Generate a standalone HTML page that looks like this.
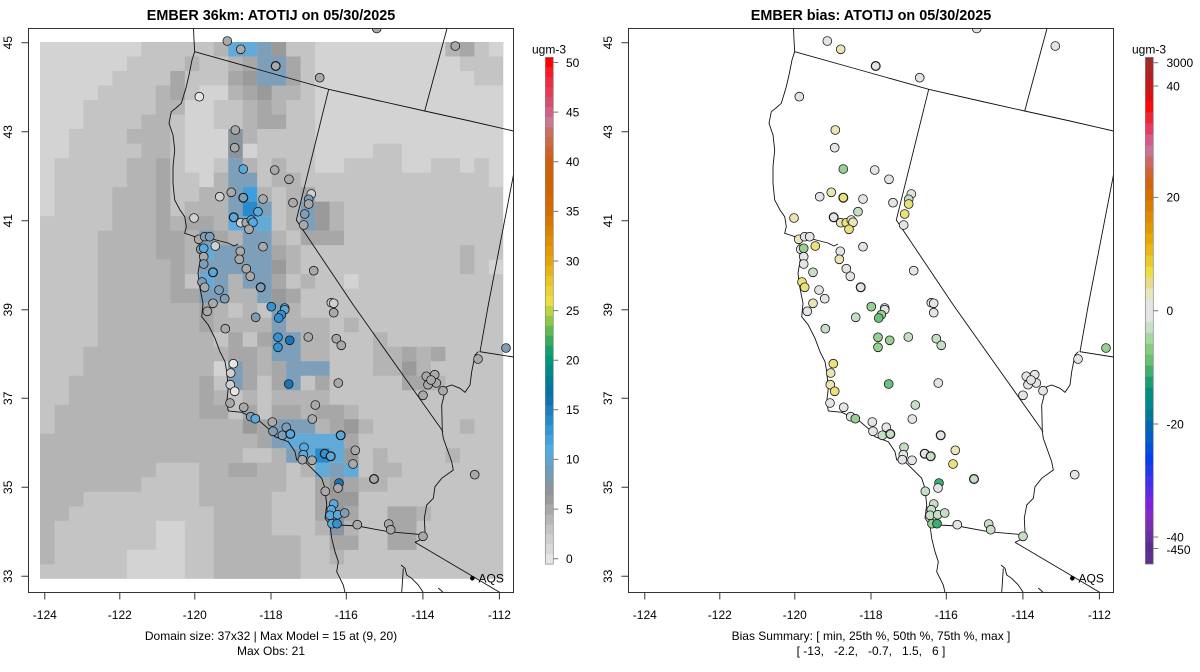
<!DOCTYPE html>
<html><head><meta charset="utf-8">
<style>
html,body{margin:0;padding:0;background:#fff;}
svg{display:block;font-family:"Liberation Sans",Arial,sans-serif;}
.a{fill:#d3d3d3}.b{fill:#c4c4c4}.c{fill:#b4b4b4}.d{fill:#a7a7a7}.e{fill:#9a9a9a}.f{fill:#8c959c}.g{fill:#7d9fb9}.h{fill:#62abd9}.i{fill:#3d9fdc}.j{fill:#2a8bcc}
circle{stroke:#1a1a1a;stroke-width:.8}
.t{stroke-width:1.2}
.pG{fill:#a9a9a9}.pL{fill:#d0d0d0}.pW{fill:#e6e6e6}.pGB{fill:#7f9db4}.pLB{fill:#5aa9dc}.pB{fill:#3392d2}.pDB{fill:#1976b6}
.rW{fill:#e4e4e4}.rPY{fill:#ebe5b5}.rY{fill:#ece07c}.rPG{fill:#c6dfc4}.rG{fill:#98d092}.rMG{fill:#6cc27a}.rDG{fill:#3aae72}
.ln{fill:none;stroke:#111;stroke-width:.9}
.ax{stroke:#333;stroke-width:1;fill:none}
.tk{font-size:12px;fill:#000}
</style></head>
<body>
<svg width="1200" height="672" viewBox="0 0 1200 672" xmlns="http://www.w3.org/2000/svg">
<defs>
<clipPath id="clipL"><rect x="28.5" y="28.5" width="485" height="564"/></clipPath>
<g id="map">
<path class="ln" d="M193.5,28.5 L194,40 194.7,51.7 192,60 189,75 186.3,86.7 181.3,103.3 176,108 171.3,111.7 169,123.3 173,135 174.7,150 173,166.7 173,183.3 174.7,200 180,210 184.7,216.7 186.3,226.7 184.7,233.3 190,235 194.7,236.7 198,240 201.3,253.3 198,273.3 199.7,286.7 203,303.3 201.7,316.7 208.3,325 215,338.3 220,351.7 225,361.7 226.7,371.7 228.3,388.3 226.7,401.7 228.3,411 241.7,412.3 258.3,420 270,430 275,436.7 288.3,441.7 295,451.7 296.7,460 305,461.7 311.7,468.3 321.7,478.3 325,488.3 326.7,505 325,518.3 330,525 331.7,538.3 335,551.7 338.3,561.7 336.7,571.7 343.3,585 345,592.5"/>
<path class="ln" d="M194.7,236.7 L202,238 212,239 220,241 228,243 234,246 238,244"/>
<path class="ln" d="M194.7,51.7 L260,70 328.7,89.3 380,101 424.7,111 470,121 513.5,131"/>
<path class="ln" d="M447,28.5 L424.7,111"/>
<path class="ln" d="M328.7,89.3 L296.3,220 353.3,305 443,431.5"/>
<path class="ln" d="M513.5,174.7 L488.3,305 480,351.7 513.5,357"/>
<path class="ln" d="M478.3,351.7 L475,355 471.7,371.7 470,385 465,392.3 460,388.3 451.7,385 446.7,386.7 445,391.7 441.7,405 442.3,431.7 443.3,438.3 451.7,461.7 453.3,470 441.7,478.3 435,486.7 433.3,498.3 426.7,505 424.3,518.3 425,531.7 423.3,538.3 415,542.3"/>
<path class="ln" d="M415,542.3 L500,592.5"/>
<path class="ln" d="M330,525 L338.3,525 357.7,526 388.3,531.7 418.3,534.3 423.3,538.3"/>
<path class="ln" d="M401,565 L405,568.3 406.7,575 411.7,578.3 418.3,585 423.3,592.5 M403.3,568.3 L401.7,592.5 M438.3,588 L443.3,592.5"/>
<circle cx="472.3" cy="578.3" r="2.3" style="fill:#000;stroke:none"/>
<text x="478.5" y="582.7" class="tk">AQS</text>
</g>
</defs>

<!-- ===== LEFT PANEL ===== -->
<text x="271" y="20" text-anchor="middle" style="font-size:14.4px;font-weight:bold">EMBER 36km: ATOTIJ on 05/30/2025</text>
<svg x="40" y="42" width="463.36" height="536.87" viewBox="0 0 32 37" preserveAspectRatio="none">
<rect x="0" y="0" width="32" height="37" class="b"/>
<path class="a" d="M0 0h7v1h-7zM19 0h9v1h-9zM31 0h1v1h-1zM0 1h6v1h-6zM19 1h10v1h-10zM0 2h5v1h-5zM19 2h11v1h-11zM0 3h4v1h-4zM11 3h2v1h-2zM19 3h13v1h-13zM0 4h3v1h-3zM10 4h2v1h-2zM19 4h13v1h-13zM0 5h3v1h-3zM10 5h2v1h-2zM19 5h13v1h-13zM0 6h2v1h-2zM10 6h3v1h-3zM19 6h13v1h-13zM0 7h2v1h-2zM10 7h3v1h-3zM14 7h1v1h-1zM19 7h4v1h-4zM25 7h7v1h-7zM0 8h1v1h-1zM10 8h2v1h-2zM19 8h2v1h-2zM25 8h2v1h-2zM29 8h1v1h-1zM31 8h1v1h-1zM0 9h1v1h-1zM11 9h1v1h-1zM31 9h1v1h-1zM0 10h1v2h-1zM31 15h1v1h-1zM21 16h1v1h-1zM12 22h1v1h-1zM8 33h2v2h-2zM6 35h4v2h-4z"/>
<path class="c" d="M12 0h1v1h-1zM28 0h1v1h-1zM10 1h1v1h-1zM13 1h1v1h-1zM8 3h1v1h-1zM13 3h1v1h-1zM16 3h2v1h-2zM8 4h2v1h-2zM14 4h1v1h-1zM16 4h1v1h-1zM7 5h2v1h-2zM14 5h1v1h-1zM6 6h3v1h-3zM14 6h1v1h-1zM7 7h2v1h-2zM6 8h2v1h-2zM14 8h1v1h-1zM16 8h1v1h-1zM6 9h2v1h-2zM12 9h1v1h-1zM16 9h2v1h-2zM5 10h3v1h-3zM11 10h2v1h-2zM15 10h1v1h-1zM17 10h1v1h-1zM5 11h3v1h-3zM10 11h3v1h-3zM17 11h1v1h-1zM20 11h1v1h-1zM5 12h3v1h-3zM9 12h1v1h-1zM12 12h1v1h-1zM17 12h1v1h-1zM20 12h1v1h-1zM4 13h4v1h-4zM10 13h1v1h-1zM13 13h1v1h-1zM16 13h1v1h-1zM4 14h4v1h-4zM10 14h1v1h-1zM17 14h1v1h-1zM29 14h1v1h-1zM4 15h5v1h-5zM10 15h1v1h-1zM17 15h1v1h-1zM29 15h1v1h-1zM4 16h5v1h-5zM13 16h1v1h-1zM18 16h1v1h-1zM4 17h5v1h-5zM13 17h2v1h-2zM4 18h7v1h-7zM12 18h1v1h-1zM14 18h1v1h-1zM17 18h1v1h-1zM4 19h7v1h-7zM12 19h4v1h-4zM17 19h3v1h-3zM21 19h1v1h-1zM4 20h8v1h-8zM18 20h2v1h-2zM23 20h1v1h-1zM3 21h10v1h-10zM15 21h1v1h-1zM18 21h2v1h-2zM23 21h2v1h-2zM26 21h1v1h-1zM3 22h9v1h-9zM15 22h1v1h-1zM23 22h2v1h-2zM26 22h1v1h-1zM2 23h9v1h-9zM27 23h1v1h-1zM2 24h9v1h-9zM12 24h1v1h-1zM14 24h1v1h-1zM16 24h4v1h-4zM1 25h10v1h-10zM18 25h1v1h-1zM21 25h1v1h-1zM1 26h13v1h-13zM19 26h1v1h-1zM22 26h1v1h-1zM29 26h1v1h-1zM0 27h15v1h-15zM0 28h14v1h-14zM16 28h1v1h-1zM23 28h1v1h-1zM28 28h1v1h-1zM0 29h8v1h-8zM11 29h2v1h-2zM15 29h2v1h-2zM18 29h1v1h-1zM23 29h2v1h-2zM0 30h7v1h-7zM11 30h6v1h-6zM22 30h2v1h-2zM0 31h3v1h-3zM11 31h5v1h-5zM0 32h2v1h-2zM12 32h4v1h-4zM26 32h1v1h-1zM0 33h1v1h-1zM12 33h4v1h-4zM19 33h1v1h-1zM21 33h1v1h-1zM0 34h1v1h-1zM12 34h6v1h-6zM0 35h1v1h-1zM12 35h6v1h-6zM20 35h1v1h-1zM12 36h6v1h-6z"/>
<path class="d" d="M29 0h1v1h-1zM14 1h1v1h-1zM17 1h1v1h-1zM9 2h1v1h-1zM13 2h1v1h-1zM17 2h1v1h-1zM9 3h1v1h-1zM14 3h1v1h-1zM15 4h1v1h-1zM15 5h2v1h-2zM8 8h1v5h-1zM18 10h1v1h-1zM10 12h2v1h-2zM8 13h2v2h-2zM12 13h1v1h-1zM18 13h3v1h-3zM16 14h1v1h-1zM9 15h1v2h-1zM16 16h1v1h-1zM9 17h2v1h-2zM17 17h1v1h-1zM11 18h1v2h-1zM13 20h1v1h-1zM15 20h1v1h-1zM13 21h2v1h-2zM25 21h1v1h-1zM27 21h1v1h-1zM14 22h1v1h-1zM16 22h1v1h-1zM11 23h1v2h-1zM14 23h1v1h-1zM16 23h1v1h-1zM19 23h1v1h-1zM25 23h2v1h-2zM11 25h2v1h-2zM14 25h1v1h-1zM16 25h2v1h-2zM19 25h2v1h-2zM15 26h1v2h-1zM20 26h1v1h-1zM21 27h1v1h-1zM13 29h2v1h-2zM19 30h1v3h-1zM21 30h1v1h-1zM21 32h1v1h-1zM24 32h2v3h-2zM20 34h2v1h-2z"/>
<path class="e" d="M16 0h1v1h-1zM14 2h1v1h-1zM15 3h1v1h-1zM19 11h1v2h-1zM16 15h1v1h-1zM16 17h1v1h-1zM25 22h1v1h-1zM14 26h1v1h-1zM21 26h1v1h-1zM21 28h1v1h-1zM20 30h1v1h-1zM20 31h2v1h-2z"/>
<path class="f" d="M13 6h1v2h-1zM20 32h1v2h-1z"/>
<path class="g" d="M15 0h1v1h-1zM15 1h2v2h-2zM13 8h1v1h-1zM13 9h2v1h-2zM13 10h1v2h-1zM15 11h1v1h-1zM18 11h1v2h-1zM11 13h1v1h-1zM14 13h2v1h-2zM12 14h4v1h-4zM11 15h5v1h-5zM12 16h1v1h-1zM14 16h2v1h-2zM11 17h2v1h-2zM15 17h1v1h-1zM16 18h1v2h-1zM16 20h2v2h-2zM13 22h1v2h-1zM17 22h3v1h-3zM17 23h1v1h-1zM16 26h3v1h-3zM16 27h1v1h-1zM17 28h1v1h-1zM20 29h1v1h-1z"/>
<path class="h" d="M13 0h2v1h-2zM13 12h3v1h-3zM11 14h1v1h-1zM11 16h1v1h-1zM17 27h4v1h-4zM18 28h1v1h-1zM20 28h1v1h-1zM19 29h1v1h-1zM21 29h1v1h-1z"/>
<path class="i" d="M14 10h1v1h-1z"/>
<path class="j" d="M14 11h1v1h-1zM19 28h1v1h-1z"/>
</svg>
<g clip-path="url(#clipL)"><use href="#map"/>
<g>
<circle cx="227.3" cy="41" r="4.4" class="pG"/>
<circle cx="240.7" cy="49.3" r="4.4" class="pG"/>
<circle cx="275.7" cy="66" r="4.4" class="pG t"/>
<circle cx="319.7" cy="77.7" r="4.4" class="pG"/>
<circle cx="199.3" cy="96.7" r="4.4" class="pW"/>
<circle cx="455.3" cy="46" r="4.4" class="pG"/>
<circle cx="376.7" cy="28.5" r="4.4" class="pG"/>
<circle cx="235.3" cy="130" r="4.4" class="pG"/>
<circle cx="234.7" cy="147.7" r="4.4" class="pG"/>
<circle cx="243.3" cy="169" r="4.4" class="pLB"/>
<circle cx="274.7" cy="170" r="4.4" class="pG"/>
<circle cx="289" cy="179.3" r="4.4" class="pG"/>
<circle cx="219.7" cy="196.7" r="4.4" class="pL"/>
<circle cx="231.3" cy="192.3" r="4.4" class="pG"/>
<circle cx="243.3" cy="197.7" r="4.4" class="pGB t"/>
<circle cx="263" cy="199" r="4.4" class="pG"/>
<circle cx="293" cy="202.7" r="4.4" class="pG"/>
<circle cx="311.3" cy="194" r="4.4" class="pL"/>
<circle cx="308.7" cy="199.3" r="4.4" class="pGB"/>
<circle cx="308.7" cy="204" r="4.4" class="pG"/>
<circle cx="304.7" cy="214" r="4.4" class="pGB"/>
<circle cx="303.7" cy="225" r="4.4" class="pG"/>
<circle cx="258" cy="211.7" r="4.4" class="pLB"/>
<circle cx="233.7" cy="217.3" r="4.4" class="pLB t"/>
<circle cx="240.7" cy="222.7" r="4.4" class="pL"/>
<circle cx="246.3" cy="222.7" r="4.4" class="pG"/>
<circle cx="251.3" cy="220" r="4.4" class="pLB"/>
<circle cx="253" cy="222.3" r="4.4" class="pLB"/>
<circle cx="249" cy="229.3" r="4.4" class="pG"/>
<circle cx="263" cy="246.7" r="4.4" class="pG"/>
<circle cx="194" cy="218" r="4.4" class="pL"/>
<circle cx="198.7" cy="239.3" r="4.4" class="pG"/>
<circle cx="204.7" cy="236.7" r="4.4" class="pGB"/>
<circle cx="209.7" cy="236.7" r="4.4" class="pGB"/>
<circle cx="200.7" cy="249.3" r="4.4" class="pGB"/>
<circle cx="203.7" cy="248.3" r="4.4" class="pLB"/>
<circle cx="215.3" cy="246" r="4.4" class="pL"/>
<circle cx="240.3" cy="251.3" r="4.4" class="pG"/>
<circle cx="239.3" cy="259.3" r="4.4" class="pG"/>
<circle cx="203.7" cy="256.7" r="4.4" class="pG"/>
<circle cx="203.7" cy="264" r="4.4" class="pGB"/>
<circle cx="213" cy="272.3" r="4.4" class="pLB t"/>
<circle cx="246.3" cy="268.7" r="4.4" class="pG"/>
<circle cx="250.3" cy="276.3" r="4.4" class="pG"/>
<circle cx="202" cy="282" r="4.4" class="pGB"/>
<circle cx="204.7" cy="287.3" r="4.4" class="pG"/>
<circle cx="219" cy="290" r="4.4" class="pGB"/>
<circle cx="224.7" cy="298.7" r="4.4" class="pGB"/>
<circle cx="260.7" cy="287.3" r="4.4" class="pGB t"/>
<circle cx="313.7" cy="270.7" r="4.4" class="pG"/>
<circle cx="331.3" cy="302.7" r="4.4" class="pL"/>
<circle cx="333.7" cy="303.3" r="4.4" class="pL"/>
<circle cx="271.3" cy="306.7" r="4.4" class="pB"/>
<circle cx="284.7" cy="308" r="4.4" class="pGB"/>
<circle cx="213" cy="303.3" r="4.4" class="pG"/>
<circle cx="207.3" cy="311.3" r="4.4" class="pG"/>
<circle cx="225.3" cy="328.7" r="4.4" class="pG"/>
<circle cx="255.7" cy="317.3" r="4.4" class="pGB"/>
<circle cx="284.7" cy="309.7" r="4.4" class="pLB"/>
<circle cx="281.3" cy="314.7" r="4.4" class="pB"/>
<circle cx="278.7" cy="318" r="4.4" class="pB"/>
<circle cx="333.7" cy="312.7" r="4.4" class="pG"/>
<circle cx="278" cy="337.3" r="4.4" class="pB"/>
<circle cx="289.7" cy="340.3" r="4.4" class="pDB"/>
<circle cx="278" cy="347.3" r="4.4" class="pB"/>
<circle cx="308.3" cy="337" r="4.4" class="pG"/>
<circle cx="336.3" cy="338.7" r="4.4" class="pG"/>
<circle cx="341.3" cy="345.3" r="4.4" class="pG"/>
<circle cx="233.3" cy="363.7" r="4.4" class="pW"/>
<circle cx="230.7" cy="373" r="4.4" class="pL"/>
<circle cx="230.3" cy="384.7" r="4.4" class="pL"/>
<circle cx="234.7" cy="391.3" r="4.4" class="pW"/>
<circle cx="230" cy="403" r="4.4" class="pG"/>
<circle cx="288.7" cy="384" r="4.4" class="pDB"/>
<circle cx="338.3" cy="383" r="4.4" class="pG"/>
<circle cx="243.7" cy="407.3" r="4.4" class="pG"/>
<circle cx="250.7" cy="416.7" r="4.4" class="pGB"/>
<circle cx="255.3" cy="418.7" r="4.4" class="pLB"/>
<circle cx="315.3" cy="405" r="4.4" class="pG"/>
<circle cx="312.3" cy="419" r="4.4" class="pG"/>
<circle cx="272.3" cy="422" r="4.4" class="pG"/>
<circle cx="286.3" cy="427.3" r="4.4" class="pGB"/>
<circle cx="273" cy="431.3" r="4.4" class="pGB"/>
<circle cx="282.3" cy="435.3" r="4.4" class="pGB"/>
<circle cx="290.3" cy="434" r="4.4" class="pLB t"/>
<circle cx="340.7" cy="435.3" r="4.4" class="pLB t"/>
<circle cx="304" cy="447.3" r="4.4" class="pLB"/>
<circle cx="303.3" cy="454.7" r="4.4" class="pLB"/>
<circle cx="302.3" cy="459.7" r="4.4" class="pG"/>
<circle cx="312" cy="460.3" r="4.4" class="pG"/>
<circle cx="324.7" cy="453.7" r="4.4" class="pB t"/>
<circle cx="330.7" cy="456.3" r="4.4" class="pLB t"/>
<circle cx="355.3" cy="450.3" r="4.4" class="pG"/>
<circle cx="353" cy="464" r="4.4" class="pG"/>
<circle cx="374" cy="479" r="4.4" class="pG t"/>
<circle cx="339" cy="483" r="4.4" class="pDB"/>
<circle cx="338" cy="488" r="4.4" class="pG"/>
<circle cx="325.3" cy="491.3" r="4.4" class="pG"/>
<circle cx="333.7" cy="504" r="4.4" class="pLB"/>
<circle cx="331.3" cy="509.7" r="4.4" class="pLB"/>
<circle cx="330" cy="515.3" r="4.4" class="pLB"/>
<circle cx="337.7" cy="514.7" r="4.4" class="pLB"/>
<circle cx="344.7" cy="513" r="4.4" class="pGB"/>
<circle cx="332" cy="523.7" r="4.4" class="pLB"/>
<circle cx="337" cy="523.7" r="4.4" class="pB"/>
<circle cx="357.3" cy="524.7" r="4.4" class="pG"/>
<circle cx="388.7" cy="524" r="4.4" class="pG"/>
<circle cx="390.7" cy="529.7" r="4.4" class="pG"/>
<circle cx="423" cy="536.3" r="4.4" class="pG"/>
<circle cx="478" cy="359" r="4.4" class="pG"/>
<circle cx="443" cy="390.7" r="4.4" class="pG"/>
<circle cx="423" cy="395.3" r="4.4" class="pG"/>
<circle cx="426.3" cy="376.3" r="4.4" class="pG"/>
<circle cx="434.7" cy="374.7" r="4.4" class="pG"/>
<circle cx="428" cy="384.7" r="4.4" class="pG"/>
<circle cx="436.3" cy="383" r="4.4" class="pG"/>
<circle cx="431" cy="380" r="4.4" class="pG"/>
<circle cx="474.7" cy="474.7" r="4.4" class="pG"/>
<circle cx="506" cy="348" r="4.4" class="pGB"/>
</g></g>
<!-- left axes -->
<rect x="28.5" y="28.5" width="485" height="564" class="ax"/>
<path class="ax" d="M44.8,592.5v7M119.8,592.5v7M194.8,592.5v7M271,592.5v7M346.3,592.5v7M422.9,592.5v7M499.4,592.5v7M28.5,42.7h-7M28.5,131.7h-7M28.5,220.7h-7M28.5,309.7h-7M28.5,398.3h-7M28.5,487.3h-7M28.5,576.3h-7"/>
<g class="tk" text-anchor="middle">
<text x="44.8" y="619">-124</text><text x="119.8" y="619">-122</text><text x="194.8" y="619">-120</text><text x="271" y="619">-118</text><text x="346.3" y="619">-116</text><text x="422.9" y="619">-114</text><text x="499.4" y="619">-112</text>
<text transform="translate(11.8,42.7) rotate(-90)">45</text>
<text transform="translate(11.8,131.7) rotate(-90)">43</text>
<text transform="translate(11.8,220.7) rotate(-90)">41</text>
<text transform="translate(11.8,309.7) rotate(-90)">39</text>
<text transform="translate(11.8,398.3) rotate(-90)">37</text>
<text transform="translate(11.8,487.3) rotate(-90)">35</text>
<text transform="translate(11.8,576.3) rotate(-90)">33</text>
<text x="271" y="640">Domain size: 37x32 | Max Model = 15 at (9, 20)</text>
<text x="271" y="655">Max Obs: 21</text>
<text x="549" y="53.5">ugm-3</text>
</g>
<!-- left colorbar -->
<g>
<rect x="545.3" y="554.06" width="8" height="10.2" fill="#e6e6e6"/>
<rect x="545.3" y="544.12" width="8" height="10.2" fill="#d9d9d9"/>
<rect x="545.3" y="534.18" width="8" height="10.2" fill="#cfcfcf"/>
<rect x="545.3" y="524.24" width="8" height="10.2" fill="#c4c4c4"/>
<rect x="545.3" y="514.3" width="8" height="10.2" fill="#b6b6b6"/>
<rect x="545.3" y="504.36" width="8" height="10.2" fill="#a9a9a9"/>
<rect x="545.3" y="494.42" width="8" height="10.2" fill="#9b9b9b"/>
<rect x="545.3" y="484.48" width="8" height="10.2" fill="#8e9499"/>
<rect x="545.3" y="474.54" width="8" height="10.2" fill="#7d98ab"/>
<rect x="545.3" y="464.6" width="8" height="10.2" fill="#6c9dbd"/>
<rect x="545.3" y="454.66" width="8" height="10.2" fill="#5ea6d0"/>
<rect x="545.3" y="444.72" width="8" height="10.2" fill="#4eaee4"/>
<rect x="545.3" y="434.78" width="8" height="10.2" fill="#3ea4de"/>
<rect x="545.3" y="424.84" width="8" height="10.2" fill="#3098d6"/>
<rect x="545.3" y="414.9" width="8" height="10.2" fill="#248aca"/>
<rect x="545.3" y="404.96" width="8" height="10.2" fill="#1c7ec0"/>
<rect x="545.3" y="395.02" width="8" height="10.2" fill="#0e72b4"/>
<rect x="545.3" y="385.08" width="8" height="10.2" fill="#0672a6"/>
<rect x="545.3" y="375.14" width="8" height="10.2" fill="#007e98"/>
<rect x="545.3" y="365.2" width="8" height="10.2" fill="#008a88"/>
<rect x="545.3" y="355.26" width="8" height="10.2" fill="#009878"/>
<rect x="545.3" y="345.32" width="8" height="10.2" fill="#14a26a"/>
<rect x="545.3" y="335.38" width="8" height="10.2" fill="#38ac5c"/>
<rect x="545.3" y="325.44" width="8" height="10.2" fill="#62ba50"/>
<rect x="545.3" y="315.5" width="8" height="10.2" fill="#8ec846"/>
<rect x="545.3" y="305.56" width="8" height="10.2" fill="#c0d43c"/>
<rect x="545.3" y="295.62" width="8" height="10.2" fill="#ece040"/>
<rect x="545.3" y="285.68" width="8" height="10.2" fill="#ecd232"/>
<rect x="545.3" y="275.74" width="8" height="10.2" fill="#eac424"/>
<rect x="545.3" y="265.8" width="8" height="10.2" fill="#e8b416"/>
<rect x="545.3" y="255.86" width="8" height="10.2" fill="#e6a608"/>
<rect x="545.3" y="245.92" width="8" height="10.2" fill="#e49a00"/>
<rect x="545.3" y="235.98" width="8" height="10.2" fill="#e08e00"/>
<rect x="545.3" y="226.04" width="8" height="10.2" fill="#dc8200"/>
<rect x="545.3" y="216.1" width="8" height="10.2" fill="#d87600"/>
<rect x="545.3" y="206.16" width="8" height="10.2" fill="#d46c00"/>
<rect x="545.3" y="196.22" width="8" height="10.2" fill="#d46800"/>
<rect x="545.3" y="186.28" width="8" height="10.2" fill="#d26400"/>
<rect x="545.3" y="176.34" width="8" height="10.2" fill="#d06200"/>
<rect x="545.3" y="166.4" width="8" height="10.2" fill="#d06006"/>
<rect x="545.3" y="156.46" width="8" height="10.2" fill="#d06010"/>
<rect x="545.3" y="146.52" width="8" height="10.2" fill="#cc6428"/>
<rect x="545.3" y="136.58" width="8" height="10.2" fill="#cc6a44"/>
<rect x="545.3" y="126.64" width="8" height="10.2" fill="#cc6e60"/>
<rect x="545.3" y="116.7" width="8" height="10.2" fill="#c87890"/>
<rect x="545.3" y="106.76" width="8" height="10.2" fill="#d06088"/>
<rect x="545.3" y="96.82" width="8" height="10.2" fill="#d84c70"/>
<rect x="545.3" y="86.88" width="8" height="10.2" fill="#e43c58"/>
<rect x="545.3" y="76.94" width="8" height="10.2" fill="#ec2c40"/>
<rect x="545.3" y="67" width="8" height="10.2" fill="#f41c28"/>
<rect x="545.3" y="57.3" width="8" height="9.9" fill="#ff0000"/>
<rect x="545.3" y="57.3" width="8" height="506.8" fill="none" stroke="#888" stroke-width=".7"/>
<path stroke="#777" stroke-width="1" d="M553.3,558.7h5M553.3,509.1h5M553.3,459.4h5M553.3,409.8h5M553.3,360.2h5M553.3,310.6h5M553.3,261h5M553.3,211.4h5M553.3,161.7h5M553.3,112.1h5M553.3,62.5h5"/>
<g class="tk"><text x="566" y="563">0</text><text x="566" y="513.4">5</text><text x="566" y="463.7">10</text><text x="566" y="414.1">15</text><text x="566" y="364.5">20</text><text x="566" y="314.9">25</text><text x="566" y="265.3">30</text><text x="566" y="215.7">35</text><text x="566" y="166">40</text><text x="566" y="116.4">45</text><text x="566" y="66.8">50</text></g>
</g>

<!-- ===== RIGHT PANEL ===== -->
<text x="871" y="20" text-anchor="middle" style="font-size:14.4px;font-weight:bold">EMBER bias: ATOTIJ on 05/30/2025</text>
<g transform="translate(600,0)" clip-path="url(#clipL)"><use href="#map"/>
<g>
<circle cx="227.3" cy="41" r="4.4" class="rW"/>
<circle cx="240.7" cy="49.3" r="4.4" class="rPY"/>
<circle cx="275.7" cy="66" r="4.4" class="rW t"/>
<circle cx="319.7" cy="77.7" r="4.4" class="rW"/>
<circle cx="199.3" cy="96.7" r="4.4" class="rW"/>
<circle cx="455.3" cy="46" r="4.4" class="rW"/>
<circle cx="376.7" cy="28.5" r="4.4" class="rW"/>
<circle cx="235.3" cy="130" r="4.4" class="rPY"/>
<circle cx="234.7" cy="147.7" r="4.4" class="rW"/>
<circle cx="243.3" cy="169" r="4.4" class="rG"/>
<circle cx="274.7" cy="170" r="4.4" class="rW"/>
<circle cx="289" cy="179.3" r="4.4" class="rW"/>
<circle cx="219.7" cy="196.7" r="4.4" class="rW"/>
<circle cx="231.3" cy="192.3" r="4.4" class="rPY"/>
<circle cx="243.3" cy="197.7" r="4.4" class="rY t"/>
<circle cx="263" cy="199" r="4.4" class="rW"/>
<circle cx="293" cy="202.7" r="4.4" class="rW"/>
<circle cx="311.3" cy="194" r="4.4" class="rW"/>
<circle cx="308.7" cy="199.3" r="4.4" class="rPG"/>
<circle cx="308.7" cy="204" r="4.4" class="rY"/>
<circle cx="304.7" cy="214" r="4.4" class="rY"/>
<circle cx="303.7" cy="225" r="4.4" class="rW"/>
<circle cx="258" cy="211.7" r="4.4" class="rPG"/>
<circle cx="233.7" cy="217.3" r="4.4" class="rW t"/>
<circle cx="240.7" cy="222.7" r="4.4" class="rPY"/>
<circle cx="246.3" cy="222.7" r="4.4" class="rY"/>
<circle cx="251.3" cy="220" r="4.4" class="rW"/>
<circle cx="253" cy="222.3" r="4.4" class="rPY"/>
<circle cx="249" cy="229.3" r="4.4" class="rY"/>
<circle cx="263" cy="246.7" r="4.4" class="rW"/>
<circle cx="194" cy="218" r="4.4" class="rPY"/>
<circle cx="198.7" cy="239.3" r="4.4" class="rPY"/>
<circle cx="204.7" cy="236.7" r="4.4" class="rW"/>
<circle cx="209.7" cy="236.7" r="4.4" class="rW"/>
<circle cx="200.7" cy="249.3" r="4.4" class="rW"/>
<circle cx="203.7" cy="248.3" r="4.4" class="rG"/>
<circle cx="215.3" cy="246" r="4.4" class="rY"/>
<circle cx="240.3" cy="251.3" r="4.4" class="rW"/>
<circle cx="239.3" cy="259.3" r="4.4" class="rPY"/>
<circle cx="203.7" cy="256.7" r="4.4" class="rW"/>
<circle cx="203.7" cy="264" r="4.4" class="rW"/>
<circle cx="213" cy="272.3" r="4.4" class="rPG"/>
<circle cx="246.3" cy="268.7" r="4.4" class="rW"/>
<circle cx="250.3" cy="276.3" r="4.4" class="rW"/>
<circle cx="202" cy="282" r="4.4" class="rY"/>
<circle cx="204.7" cy="287.3" r="4.4" class="rY"/>
<circle cx="219" cy="290" r="4.4" class="rW"/>
<circle cx="224.7" cy="298.7" r="4.4" class="rW"/>
<circle cx="260.7" cy="287.3" r="4.4" class="rW t"/>
<circle cx="313.7" cy="270.7" r="4.4" class="rW"/>
<circle cx="331.3" cy="302.7" r="4.4" class="rW"/>
<circle cx="333.7" cy="303.3" r="4.4" class="rW"/>
<circle cx="271.3" cy="306.7" r="4.4" class="rG"/>
<circle cx="284.7" cy="308" r="4.4" class="rW"/>
<circle cx="213" cy="303.3" r="4.4" class="rPY"/>
<circle cx="207.3" cy="311.3" r="4.4" class="rW"/>
<circle cx="225.3" cy="328.7" r="4.4" class="rPG"/>
<circle cx="255.7" cy="317.3" r="4.4" class="rPG"/>
<circle cx="284.7" cy="309.7" r="4.4" class="rW"/>
<circle cx="281.3" cy="314.7" r="4.4" class="rG"/>
<circle cx="278.7" cy="318" r="4.4" class="rMG"/>
<circle cx="333.7" cy="312.7" r="4.4" class="rW"/>
<circle cx="278" cy="337.3" r="4.4" class="rG"/>
<circle cx="289.7" cy="340.3" r="4.4" class="rG"/>
<circle cx="278" cy="347.3" r="4.4" class="rG"/>
<circle cx="308.3" cy="337" r="4.4" class="rPG"/>
<circle cx="336.3" cy="338.7" r="4.4" class="rPG"/>
<circle cx="341.3" cy="345.3" r="4.4" class="rPG"/>
<circle cx="233.3" cy="363.7" r="4.4" class="rY"/>
<circle cx="230.7" cy="373" r="4.4" class="rPY"/>
<circle cx="230.3" cy="384.7" r="4.4" class="rPY"/>
<circle cx="234.7" cy="391.3" r="4.4" class="rY"/>
<circle cx="230" cy="403" r="4.4" class="rW"/>
<circle cx="288.7" cy="384" r="4.4" class="rMG"/>
<circle cx="338.3" cy="383" r="4.4" class="rW"/>
<circle cx="243.7" cy="407.3" r="4.4" class="rW"/>
<circle cx="250.7" cy="416.7" r="4.4" class="rW"/>
<circle cx="255.3" cy="418.7" r="4.4" class="rG"/>
<circle cx="315.3" cy="405" r="4.4" class="rPG"/>
<circle cx="312.3" cy="419" r="4.4" class="rW"/>
<circle cx="272.3" cy="422" r="4.4" class="rW"/>
<circle cx="286.3" cy="427.3" r="4.4" class="rW"/>
<circle cx="273" cy="431.3" r="4.4" class="rW"/>
<circle cx="282.3" cy="435.3" r="4.4" class="rPG"/>
<circle cx="290.3" cy="434" r="4.4" class="rPG t"/>
<circle cx="340.7" cy="435.3" r="4.4" class="rW t"/>
<circle cx="304" cy="447.3" r="4.4" class="rPG"/>
<circle cx="303.3" cy="454.7" r="4.4" class="rW"/>
<circle cx="302.3" cy="459.7" r="4.4" class="rW"/>
<circle cx="312" cy="460.3" r="4.4" class="rW"/>
<circle cx="324.7" cy="453.7" r="4.4" class="rW t"/>
<circle cx="330.7" cy="456.3" r="4.4" class="rPG t"/>
<circle cx="355.3" cy="450.3" r="4.4" class="rPY"/>
<circle cx="353" cy="464" r="4.4" class="rY"/>
<circle cx="374" cy="479" r="4.4" class="rPG t"/>
<circle cx="339" cy="483" r="4.4" class="rDG"/>
<circle cx="338" cy="488" r="4.4" class="rW"/>
<circle cx="325.3" cy="491.3" r="4.4" class="rPG"/>
<circle cx="333.7" cy="504" r="4.4" class="rPG"/>
<circle cx="331.3" cy="509.7" r="4.4" class="rPG"/>
<circle cx="330" cy="515.3" r="4.4" class="rPG"/>
<circle cx="337.7" cy="514.7" r="4.4" class="rPG"/>
<circle cx="344.7" cy="513" r="4.4" class="rPG"/>
<circle cx="332" cy="523.7" r="4.4" class="rG"/>
<circle cx="337" cy="523.7" r="4.4" class="rDG"/>
<circle cx="357.3" cy="524.7" r="4.4" class="rW"/>
<circle cx="388.7" cy="524" r="4.4" class="rPG"/>
<circle cx="390.7" cy="529.7" r="4.4" class="rPG"/>
<circle cx="423" cy="536.3" r="4.4" class="rPG"/>
<circle cx="478" cy="359" r="4.4" class="rW"/>
<circle cx="443" cy="390.7" r="4.4" class="rW"/>
<circle cx="423" cy="395.3" r="4.4" class="rW"/>
<circle cx="426.3" cy="376.3" r="4.4" class="rW"/>
<circle cx="434.7" cy="374.7" r="4.4" class="rW"/>
<circle cx="428" cy="384.7" r="4.4" class="rW"/>
<circle cx="436.3" cy="383" r="4.4" class="rW"/>
<circle cx="431" cy="380" r="4.4" class="rW"/>
<circle cx="474.7" cy="474.7" r="4.4" class="rW"/>
<circle cx="506" cy="348" r="4.4" class="rG"/>
</g></g>
<!-- right axes -->
<rect x="628.5" y="28.5" width="485" height="564" class="ax"/>
<path class="ax" d="M644.8,592.5v7M719.8,592.5v7M794.8,592.5v7M871,592.5v7M946.3,592.5v7M1022.9,592.5v7M1099.4,592.5v7M628.5,42.7h-7M628.5,131.7h-7M628.5,220.7h-7M628.5,309.7h-7M628.5,398.3h-7M628.5,487.3h-7M628.5,576.3h-7"/>
<g class="tk" text-anchor="middle">
<text x="644.8" y="619">-124</text><text x="719.8" y="619">-122</text><text x="794.8" y="619">-120</text><text x="871" y="619">-118</text><text x="946.3" y="619">-116</text><text x="1022.9" y="619">-114</text><text x="1099.4" y="619">-112</text>
<text transform="translate(611.8,42.7) rotate(-90)">45</text>
<text transform="translate(611.8,131.7) rotate(-90)">43</text>
<text transform="translate(611.8,220.7) rotate(-90)">41</text>
<text transform="translate(611.8,309.7) rotate(-90)">39</text>
<text transform="translate(611.8,398.3) rotate(-90)">37</text>
<text transform="translate(611.8,487.3) rotate(-90)">35</text>
<text transform="translate(611.8,576.3) rotate(-90)">33</text>
<text x="871" y="640">Bias Summary: [ min, 25th %, 50th %, 75th %, max ]</text>
<text x="871" y="655" style="white-space:pre" xml:space="preserve">[ -13,   -2.2,   -0.7,   1.5,   6 ]</text>
<text x="1149" y="53.5">ugm-3</text>
</g>
<!-- right colorbar -->
<g>
<rect x="1145.3" y="57.3" width="8" height="11.3" fill="#9e2a2a"/>
<rect x="1145.3" y="68.3" width="8" height="11.3" fill="#b02222"/>
<rect x="1145.3" y="79.3" width="8" height="11.3" fill="#c41a1a"/>
<rect x="1145.3" y="90.3" width="8" height="11.3" fill="#dc1010"/>
<rect x="1145.3" y="101.4" width="8" height="11.3" fill="#fa0a0a"/>
<rect x="1145.3" y="112.4" width="8" height="11.3" fill="#f02434"/>
<rect x="1145.3" y="123.4" width="8" height="11.3" fill="#e43c5c"/>
<rect x="1145.3" y="134.4" width="8" height="11.3" fill="#d8588a"/>
<rect x="1145.3" y="145.4" width="8" height="11.3" fill="#c87494"/>
<rect x="1145.3" y="156.4" width="8" height="11.3" fill="#cc6a60"/>
<rect x="1145.3" y="167.5" width="8" height="11.3" fill="#d06234"/>
<rect x="1145.3" y="178.5" width="8" height="11.3" fill="#d46210"/>
<rect x="1145.3" y="189.5" width="8" height="11.3" fill="#d86e00"/>
<rect x="1145.3" y="200.5" width="8" height="11.3" fill="#dc7c00"/>
<rect x="1145.3" y="211.5" width="8" height="11.3" fill="#e08a00"/>
<rect x="1145.3" y="222.5" width="8" height="11.3" fill="#e49800"/>
<rect x="1145.3" y="233.5" width="8" height="11.3" fill="#e8a800"/>
<rect x="1145.3" y="244.6" width="8" height="11.3" fill="#eab814"/>
<rect x="1145.3" y="255.6" width="8" height="11.3" fill="#ecc828"/>
<rect x="1145.3" y="266.6" width="8" height="11.3" fill="#ece040"/>
<rect x="1145.3" y="277.6" width="8" height="11.3" fill="#e9dd8c"/>
<rect x="1145.3" y="288.6" width="8" height="11.3" fill="#e9e5bc"/>
<rect x="1145.3" y="299.6" width="8" height="22.3" fill="#e4e4e4"/>
<rect x="1145.3" y="321.7" width="8" height="11.3" fill="#c8e0c8"/>
<rect x="1145.3" y="332.7" width="8" height="11.3" fill="#a8d8a0"/>
<rect x="1145.3" y="343.7" width="8" height="11.3" fill="#88cc80"/>
<rect x="1145.3" y="354.7" width="8" height="11.3" fill="#68c070"/>
<rect x="1145.3" y="365.7" width="8" height="11.3" fill="#40b070"/>
<rect x="1145.3" y="376.7" width="8" height="11.3" fill="#18a070"/>
<rect x="1145.3" y="387.8" width="8" height="11.3" fill="#009080"/>
<rect x="1145.3" y="398.8" width="8" height="11.3" fill="#008890"/>
<rect x="1145.3" y="409.8" width="8" height="11.3" fill="#00789a"/>
<rect x="1145.3" y="420.8" width="8" height="11.3" fill="#0068b0"/>
<rect x="1145.3" y="431.8" width="8" height="11.3" fill="#0060c8"/>
<rect x="1145.3" y="442.8" width="8" height="11.3" fill="#0050e0"/>
<rect x="1145.3" y="453.8" width="8" height="11.3" fill="#0040f0"/>
<rect x="1145.3" y="464.9" width="8" height="11.3" fill="#2038f0"/>
<rect x="1145.3" y="475.9" width="8" height="11.3" fill="#4030f0"/>
<rect x="1145.3" y="486.9" width="8" height="11.3" fill="#6028e8"/>
<rect x="1145.3" y="497.9" width="8" height="11.3" fill="#8020e0"/>
<rect x="1145.3" y="508.9" width="8" height="11.3" fill="#8828c8"/>
<rect x="1145.3" y="519.9" width="8" height="11.3" fill="#7830b0"/>
<rect x="1145.3" y="531" width="8" height="11.3" fill="#6a30a0"/>
<rect x="1145.3" y="542" width="8" height="11.3" fill="#5c2c90"/>
<rect x="1145.3" y="553" width="8" height="11" fill="#603090"/>
<rect x="1145.3" y="57.3" width="8" height="506.8" fill="none" stroke="#888" stroke-width=".7"/>
<path stroke="#777" stroke-width="1" d="M1153.3,62.7h5M1153.3,86h5M1153.3,197.4h5M1153.3,310.7h5M1153.3,424h5M1153.3,537h5M1153.3,548.5h5"/>
<g class="tk"><text x="1166.5" y="67">3000</text><text x="1166.5" y="90.3">40</text><text x="1166.5" y="201.7">20</text><text x="1166.5" y="315">0</text><text x="1166.5" y="428.3">-20</text><text x="1166.5" y="541.3">-40</text><text x="1166.5" y="554">-450</text></g>
</g>
</svg>
</body></html>
